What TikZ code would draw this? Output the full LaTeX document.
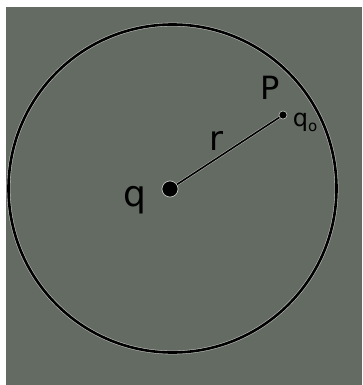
\documentclass[tikz,border=0pt]{standalone}
\usepackage{fontspec}
\setmainfont{DejaVu Sans}
\definecolor{bg}{HTML}{646B62}
\begin{document}
\begin{tikzpicture}[x=1pt,y=-1pt,
  lbl/.style={text=black,inner sep=0pt,font=\bfseries\fontsize{34}{34}\selectfont},
  dotbig/.style={circle,fill=black,draw=white!60!bg,line width=0.6pt,inner sep=0pt,minimum size=16pt},
  dotsmall/.style={circle,fill=black,draw=white!60!bg,line width=0.5pt,inner sep=0pt,minimum size=8pt}]
\useasboundingbox (0,0) rectangle (362,385);
\fill[white] (0,0) rectangle (362,385);
\fill[bg] (6,7) rectangle (362,385);
\draw[white!55!bg,line width=3.8pt] (172.5,188.5) circle (164);
\draw[black,line width=2.6pt] (172.5,188.5) circle (164);
\node[dotbig] (q) at (170,189) {};
\node[dotsmall] (q0) at (283,115) {};
\draw[white!55!bg,line width=2.6pt] (q) -- (q0);
\draw[black,line width=1.6pt] (q) -- (q0);
\node[dotbig] at (q) {};
\node[dotsmall] at (q0) {};
\node[lbl,font=\fontsize{36}{36}\selectfont] (lq) at (135,200) {q};
\node[lbl,font=\fontsize{34}{34}\selectfont] (lr) at (216,141) {r};
\node[lbl,font=\fontsize{32}{32}\selectfont] (lP) at (270,88) {P};
\node[lbl,font=\fontsize{24}{24}\selectfont] (lq0) at (305,122) {q\raisebox{-5pt}{\fontsize{15}{15}\selectfont o}};
\end{tikzpicture}
\end{document}
